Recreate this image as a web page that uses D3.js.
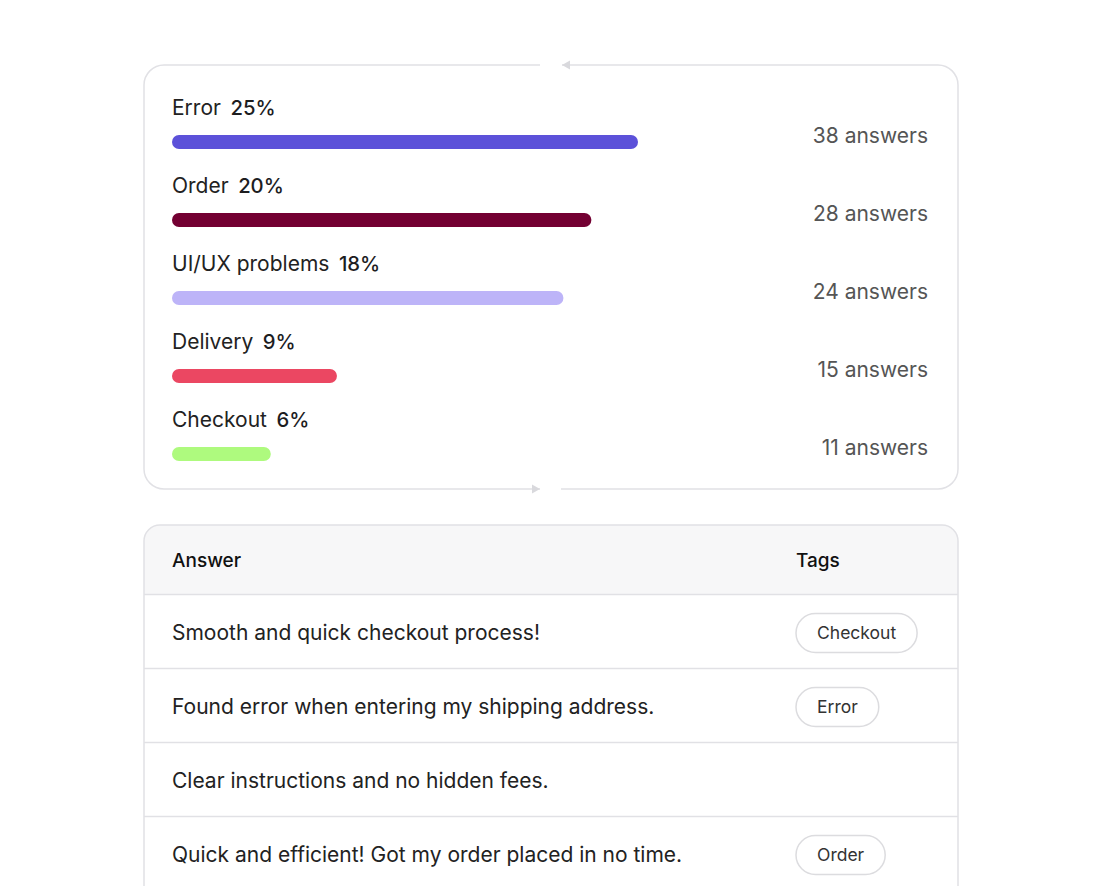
<!DOCTYPE html>
<html>
<head>
<meta charset="utf-8">
<script src="https://cdn.jsdelivr.net/npm/d3@7"></script>
<style>
  html, body { margin: 0; padding: 0; background: #fff; }
  svg { display: block; font-family: Inter, "Noto Sans", sans-serif; }
</style>
</head>
<body>
<div id="chart"></div>
<script>
// survey categories
var categories = ["Error", "Order", "UI/UX problems", "Delivery", "Checkout"];
var percents = [25, 20, 18, 9, 6];
var answerCounts = [38, 28, 24, 15, 11];
// bar lengths as drawn (percent units)
var barLevels = [25, 22.5, 21, 8.85, 5.3];
var barColors = ["#5c51d9", "#730032", "#bdb4f8", "#eb4762", "#aefa7e"];

// table rows
var answerTexts = [
    "Smooth and quick checkout process!",
    "Found error when entering my shipping address.",
    "Clear instructions and no hidden fees.",
    "Quick and efficient! Got my order placed in no time."
];
var answerTags = ["Checkout", "Error", "", "Order"];

var width = 1106, height = 886;
var border = "#e1e1e5";

var svg = d3.select("#chart").append("svg")
    .attr("width", width)
    .attr("height", height);

var defs = svg.append("defs");

// ---- card 1 : bars ----
var card = { x: 144, y: 65, w: 814, h: 424, r: 20 };

svg.append("rect")
    .attr("x", card.x).attr("y", card.y)
    .attr("width", card.w).attr("height", card.h)
    .attr("rx", card.r)
    .attr("fill", "#fff")
    .attr("stroke", border)
    .attr("stroke-width", 1.5);

// gaps in the border
svg.append("rect").attr("x", 540).attr("y", card.y - 3).attr("width", 22).attr("height", 6).attr("fill", "#fff");
svg.append("rect").attr("x", 540).attr("y", card.y + card.h - 3).attr("width", 21).attr("height", 6).attr("fill", "#fff");

// arrow heads
svg.append("path")
    .attr("d", "M562," + card.y + " L570," + (card.y - 4.5) + " L570," + (card.y + 4.5) + " Z")
    .attr("fill", "#d9d9dd");
svg.append("path")
    .attr("d", "M540," + (card.y + card.h) + " L532," + (card.y + card.h - 4.5) + " L532," + (card.y + card.h + 4.5) + " Z")
    .attr("fill", "#d9d9dd");

var barData = categories.map(function (c, i) {
    return { cat: c, pct: percents[i], count: answerCounts[i], level: barLevels[i], color: barColors[i] };
});

var y = d3.scaleBand()
    .domain(categories)
    .range([88, 88 + 78 * categories.length])
    .padding(0);

var x = d3.scaleLinear()
    .domain([0, 25])
    .range([0, 466]);

var rows = svg.selectAll(".row")
    .data(barData)
    .enter().append("g")
    .attr("class", "row")
    .attr("transform", function (d) { return "translate(0," + y(d.cat) + ")"; });

var labels = rows.append("text")
    .attr("x", 172)
    .attr("y", 27)
    .attr("font-size", 21)
    .attr("fill", "#222")
    .text(function (d) { return d.cat; });

rows.append("text")
    .attr("y", 27)
    .attr("font-size", 20.3)
    .attr("font-weight", 500)
    .attr("fill", "#1d1d1f")
    .attr("x", function (d, i) {
        return 172 + labels.nodes()[i].getComputedTextLength() + 9.5;
    })
    .text(function (d) { return d.pct + "%"; });

rows.append("rect")
    .attr("x", 172)
    .attr("y", 47)
    .attr("height", 14)
    .attr("rx", 7)
    .attr("width", function (d) { return x(d.level); })
    .attr("fill", function (d) { return d.color; });

rows.append("text")
    .attr("x", 928)
    .attr("y", 55)
    .attr("text-anchor", "end")
    .attr("font-size", 21)
    .attr("fill", "#555")
    .text(function (d) { return d.count + " answers"; });

// ---- card 2 : table ----
var table = { x: 144, y: 525, w: 814, h: 420, r: 16, head: 69.5, rowH: 74 };

defs.append("clipPath").attr("id", "tableClip")
    .append("rect")
    .attr("x", table.x).attr("y", table.y)
    .attr("width", table.w).attr("height", table.h)
    .attr("rx", table.r);

svg.append("rect")
    .attr("x", table.x).attr("y", table.y)
    .attr("width", table.w).attr("height", table.h)
    .attr("rx", table.r)
    .attr("fill", "#fff");

svg.append("rect")
    .attr("clip-path", "url(#tableClip)")
    .attr("x", table.x).attr("y", table.y)
    .attr("width", table.w).attr("height", table.head)
    .attr("fill", "#f7f7f8");

svg.append("rect")
    .attr("x", table.x).attr("y", table.y)
    .attr("width", table.w).attr("height", table.h)
    .attr("rx", table.r)
    .attr("fill", "none")
    .attr("stroke", border)
    .attr("stroke-width", 1.5);

svg.append("text")
    .attr("x", 172).attr("y", table.y + table.head / 2 + 7)
    .attr("font-size", 19).attr("font-weight", 500).attr("fill", "#111")
    .text("Answer");
svg.append("text")
    .attr("x", 796).attr("y", table.y + table.head / 2 + 7)
    .attr("font-size", 19).attr("font-weight", 500).attr("fill", "#111")
    .text("Tags");

var tableData = answerTexts.map(function (t, i) { return { text: t, tag: answerTags[i] }; });

var ry = d3.scaleBand()
    .domain(d3.range(tableData.length))
    .range([table.y + table.head, table.y + table.head + table.rowH * tableData.length]);

var trows = svg.selectAll(".trow")
    .data(tableData)
    .enter().append("g")
    .attr("class", "trow")
    .attr("transform", function (d, i) { return "translate(0," + ry(i) + ")"; });

trows.append("line")
    .attr("x1", table.x).attr("x2", table.x + table.w)
    .attr("y1", 0).attr("y2", 0)
    .attr("stroke", border)
    .attr("stroke-width", 1.5);

trows.append("text")
    .attr("x", 172)
    .attr("y", table.rowH / 2 + 8.5)
    .attr("font-size", 21)
    .attr("fill", "#222")
    .text(function (d) { return d.text; });

var tags = trows.filter(function (d) { return d.tag; });

var tagText = tags.append("text")
    .attr("y", table.rowH / 2 + 7.5)
    .attr("font-size", 17.5)
    .attr("text-anchor", "middle")
    .attr("fill", "#333")
    .text(function (d) { return d.tag; });

tags.insert("rect", "text")
    .each(function (d, i) {
        var t = tagText.nodes()[i];
        var w = t.getComputedTextLength() + 42;
        d3.select(this)
            .attr("x", 796).attr("y", table.rowH / 2 - 18)
            .attr("width", w).attr("height", 39)
            .attr("rx", 19.5)
            .attr("fill", "#fff")
            .attr("stroke", "#dcdcdf")
            .attr("stroke-width", 1.5);
        d3.select(t).attr("x", 796 + w / 2);
    });
</script>
</body>
</html>
